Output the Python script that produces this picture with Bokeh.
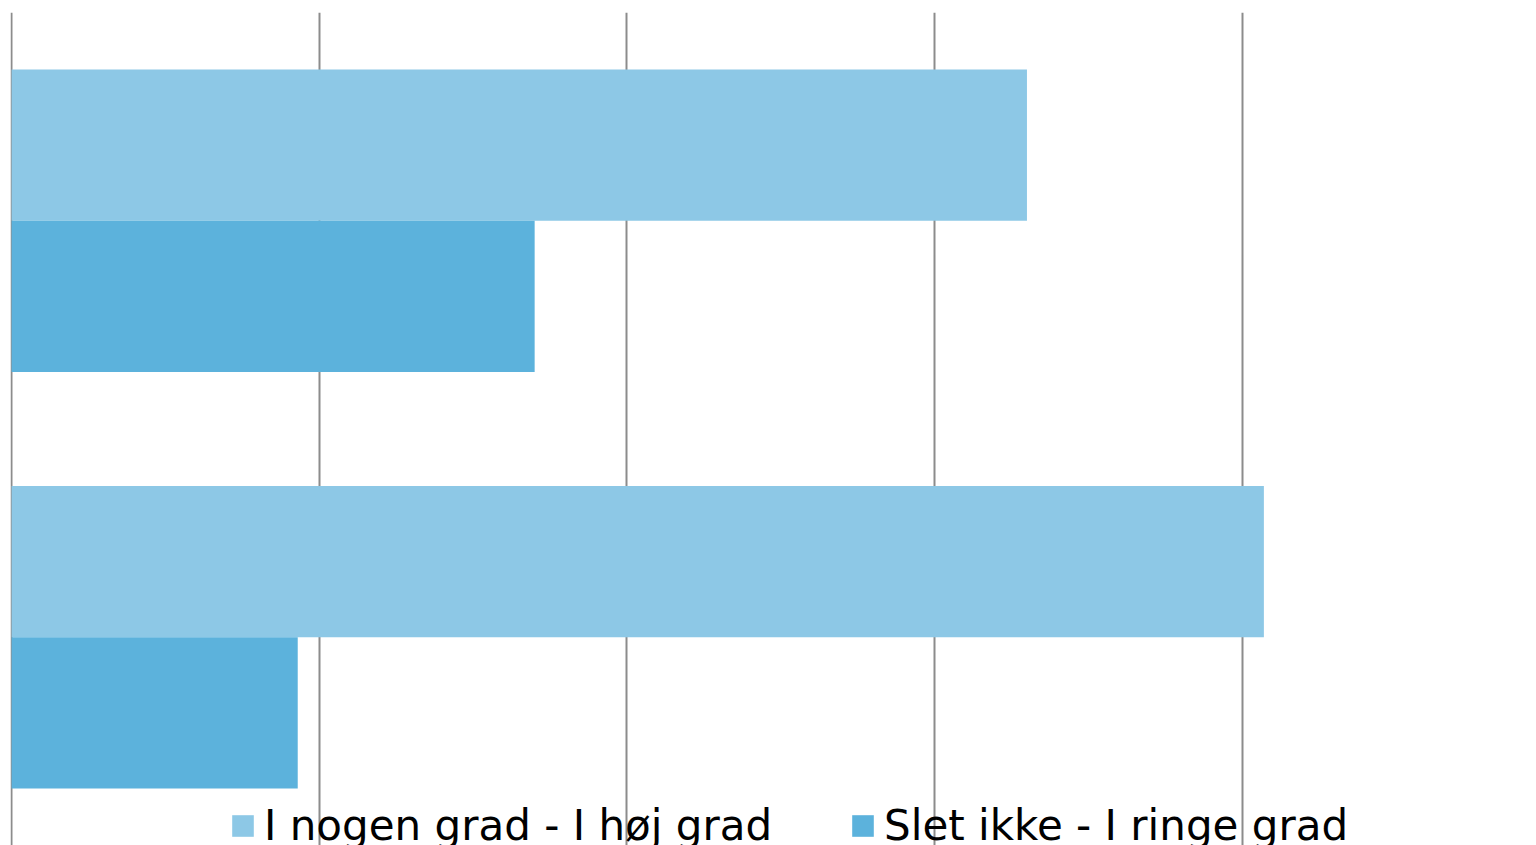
from bokeh.plotting import figure
from bokeh.models import ColumnDataSource, FactorRange, Range1d, FixedTicker, Legend, LegendItem
from bokeh.transform import dodge
from bokeh.embed import file_html
from bokeh.resources import INLINE

categories = ["Spørgsmål 1", "Spørgsmål 2"]
series_names = ["I nogen grad - I høj grad", "Slet ikke - I ringe grad"]
high_values = [66, 81.4]
low_values = [34, 18.6]
grid_ticks = [0, 20, 40, 60, 80]
colors = ["#8DC8E6", "#5CB2DC"]

source = ColumnDataSource(dict(cat=categories, high=high_values, low=low_values))

p = figure(width=1536, height=845, output_backend="svg", toolbar_location=None,
           y_range=FactorRange(factors=list(reversed(categories)), range_padding=0),
           x_range=Range1d(-0.07, 99.12),
           min_border_left=10, min_border_right=0, min_border_top=12, min_border_bottom=0)

bar_h = 0.363
r1 = p.hbar(y=dodge("cat", bar_h / 2, range=p.y_range), right="high", left=0, height=bar_h,
            source=source, fill_color=colors[0], line_color=None)
r2 = p.hbar(y=dodge("cat", -bar_h / 2, range=p.y_range), right="low", left=0, height=bar_h,
            source=source, fill_color=colors[1], line_color=None)

p.xaxis.visible = False
p.yaxis.visible = False
p.ygrid.visible = False
p.xgrid.ticker = FixedTicker(ticks=grid_ticks)
p.xgrid.grid_line_color = "#8c8c8c"
p.xgrid.grid_line_width = 2
p.outline_line_color = None

legend = Legend(items=[LegendItem(label=series_names[0], renderers=[r1]),
                       LegendItem(label=series_names[1], renderers=[r2])],
                orientation="horizontal", location=(219, -5),
                label_text_font="DejaVu Sans", label_text_font_size="42px",
                label_text_color="#000000",
                glyph_width=27, glyph_height=27, label_standoff=8, spacing=77,
                padding=0, margin=0, border_line_alpha=0, background_fill_alpha=0)
p.add_layout(legend)

open("out.html", "w").write(file_html(p, INLINE))
